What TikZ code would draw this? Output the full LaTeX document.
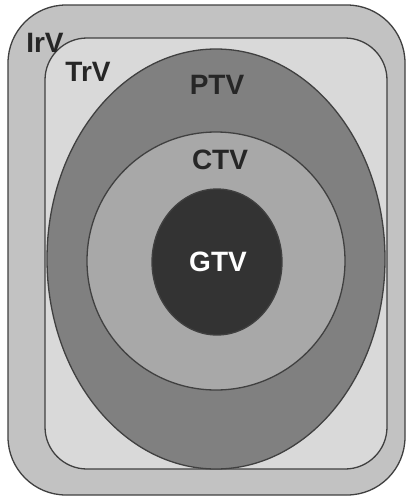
\documentclass[tikz,border=0pt]{standalone}
\usepackage{fontspec}
\setmainfont{Liberation Sans}
\begin{document}
\begin{tikzpicture}[x=1pt,y=-1pt,
  region/.style={draw=black!75,line width=1.3pt},
  lbl/.style={font=\fontsize{28}{28}\selectfont\bfseries,inner sep=0pt}]
\useasboundingbox (0,0) rectangle (409,499);
\fill[white] (0,0) rectangle (409,499);
% irradiated volume
\draw[region,fill=black!24,rounded corners=58pt] (8,5) rectangle (405,495);
% treated volume
\draw[region,fill=black!15,rounded corners=42pt] (45,38) rectangle (387,469);
% planning target volume
\draw[region,fill=black!50] (216,259) ellipse [x radius=169, y radius=210];
% clinical target volume
\draw[region,fill=black!34] (216,261) circle [radius=129];
% gross tumour volume
\draw[region,fill=black!80] (217,262) ellipse [x radius=65, y radius=73];
\node[lbl,text=black!85] (irv) at (45,43) {IrV};
\node[lbl,text=black!85] (trv) at (88,72) {TrV};
\node[lbl,text=black!85] (ptv) at (217,85) {PTV};
\node[lbl,text=black!85] (ctv) at (220,160) {CTV};
\node[lbl,text=white] (gtv) at (218,262) {GTV};
\end{tikzpicture}
\end{document}
